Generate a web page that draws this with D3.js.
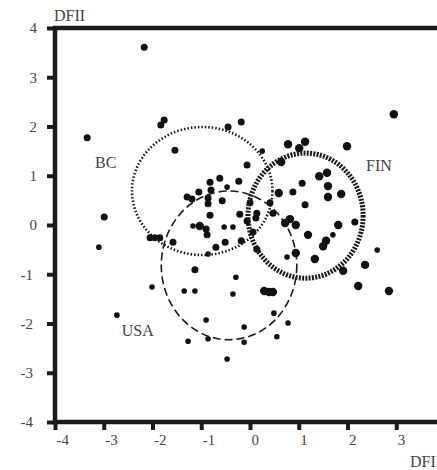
<!DOCTYPE html>
<html>
<head>
<meta charset="utf-8">
<script src="https://cdn.jsdelivr.net/npm/d3@7"></script>
<style>
    body { margin: 0; background: #fff; }
    svg { display: block; }
    .tick text { font-family: "Liberation Serif", "DejaVu Serif", serif; font-size: 15px; fill: #444; }
    .lbl { font-family: "Liberation Serif", "DejaVu Serif", serif; font-size: 16px; fill: #444; }
</style>
</head>
<body>
<svg id="chart" width="437" height="470"></svg>
<script>
// tick values
var xTicks = [-4, -3, -2, -1, 0, 1, 2, 3];
var yTicks = [-4, -3, -2, -1, 0, 1, 2, 3, 4];

// discriminant scores (DFI, DFII) per group
var finPoints = [
    [2.95, 2.25], [1.99, 1.60], [0.78, 1.64], [1.13, 1.69], [1.01, 1.56],
    [0.64, 1.28], [0.59, 0.65], [-1.03, -0.02], [0.72, 0.04], [0.82, 0.12],
    [0.94, 0.0], [0.94, -0.57], [0.29, -1.34], [0.39, -1.36], [0.47, -1.36],
    [1.81, 0.0], [1.19, -0.20], [1.50, -0.43], [1.56, -0.32], [1.33, -0.69],
    [2.36, -0.81], [1.91, -0.93], [2.22, -1.24], [2.85, -1.34], [1.58, 1.06],
    [1.42, 0.99], [1.60, 0.79], [1.87, 0.63], [1.60, 0.57]
];
var bcPoints = [
    [-2.17, 3.61], [-3.34, 1.77], [-2.99, 0.16], [-1.13, -0.91], [-1.83, 2.03],
    [-1.76, 2.13], [-1.54, 1.52], [-0.45, 1.99], [-0.18, 2.09], [-0.06, 1.22],
    [-0.62, 0.95], [-0.23, 0.89], [-0.57, 0.49], [0.88, 0.67], [0.41, 0.45],
    [-0.82, 0.87], [-1.05, 0.67], [-0.80, 0.71], [-1.29, 0.57], [-1.19, 0.53],
    [-0.86, 0.55], [-0.86, 0.43], [-0.82, 0.20], [-0.90, -0.08], [-0.88, -0.20],
    [-0.70, -0.45], [-2.05, -0.26], [-1.95, -0.26], [-1.85, -0.26], [-1.58, -0.35],
    [0.0, 0.45], [-0.21, 0.22], [0.14, 0.24], [0.12, 0.14], [0.47, 0.24],
    [-0.06, 0.08], [0.06, -0.14], [-0.51, -0.35], [-0.18, -0.32], [0.14, -0.49],
    [1.13, 0.41], [2.15, 0.06], [1.07, 0.85]
];
var usaPoints = [
    [-3.10, -0.45], [-2.73, -1.83], [-2.01, -1.26], [-1.27, -2.36], [-0.86, -2.31],
    [-0.90, -1.93], [-1.35, -1.34], [-1.13, -1.34], [0.25, 1.50], [-0.47, 0.77],
    [-1.17, -0.02], [-0.86, -0.59], [-0.53, -0.04], [-0.35, -0.04], [0.76, -0.65],
    [-0.29, -1.06], [-0.35, -1.40], [0.49, -1.79], [0.78, -1.99], [-0.12, -2.07],
    [-0.12, -2.38], [0.55, -2.27], [-0.47, -2.72], [1.70, -0.20], [2.61, -0.51]
];

// group ellipses: name, centre and spread in DF units
var groupNames = ["BC", "USA", "FIN"];
var groupCx = [-0.98, -0.43, 1.14];
var groupCy = [0.69, -0.82, 0.19];
var groupRx = [1.44, 1.39, 1.18];
var groupRy = [1.30, 1.51, 1.27];
// where the group names sit (DF units)
var labelX = [-3.18, -2.63, 2.38];
var labelY = [1.16, -2.25, 1.10];

var svg = d3.select("#chart");

var x = d3.scaleLinear().domain([-4, 4]).range([55, 445]);
var y = d3.scaleLinear().domain([-4, 4]).range([422, 28]);

// frame (right edge falls outside the window)
svg.append("rect")
    .attr("x", x(-4))
    .attr("y", y(4))
    .attr("width", x(4) - x(-4))
    .attr("height", y(-4) - y(4))
    .attr("fill", "none")
    .attr("stroke", "#1a1a1a")
    .attr("stroke-width", 4.5);

var xAxis = svg.append("g")
    .attr("transform", "translate(0," + y(-4) + ")")
    .call(d3.axisBottom(x).tickValues(xTicks).tickSize(8).tickSizeOuter(0).tickFormat(d3.format("d")));
xAxis.select(".domain").remove();
xAxis.selectAll(".tick line").attr("stroke", "#1a1a1a").attr("stroke-width", 4);
xAxis.selectAll(".tick text")
    .attr("text-anchor", "start")
    .attr("x", 1)
    .attr("y", 12)
    .attr("dy", "0.71em")
    .text(function (d) { return d < 0 ? "-" + Math.abs(d) : d; });

var yAxis = svg.append("g")
    .attr("transform", "translate(" + x(-4) + ",0)")
    .call(d3.axisLeft(y).tickValues(yTicks).tickSize(8).tickSizeOuter(0));
yAxis.select(".domain").remove();
yAxis.selectAll(".tick line").attr("stroke", "#1a1a1a").attr("stroke-width", 4);
yAxis.selectAll(".tick text")
    .attr("text-anchor", "end")
    .attr("x", function (d) { return d < 0 ? -22 : -18; })
    .attr("dy", "0.33em")
    .text(function (d) { return d < 0 ? "-" + Math.abs(d) : d; });

// points
var groups = [
    { pts: finPoints, r: 4.2 },
    { pts: bcPoints, r: 3.5 },
    { pts: usaPoints, r: 2.8 }
];
groups.forEach(function (g) {
    svg.append("g")
        .selectAll("circle")
        .data(g.pts)
        .enter().append("circle")
        .attr("cx", function (d) { return x(d[0]); })
        .attr("cy", function (d) { return y(d[1]); })
        .attr("r", g.r)
        .attr("fill", "#111");
});

// group ellipses
var ellStyle = [
    { w: 2.6, dash: "1.5,2" },
    { w: 1.6, dash: "8,4" },
    { w: 5, dash: "2,1.3" }
];
svg.append("g")
    .selectAll("ellipse")
    .data(groupNames)
    .enter().append("ellipse")
    .attr("cx", function (d, i) { return x(groupCx[i]); })
    .attr("cy", function (d, i) { return y(groupCy[i]); })
    .attr("rx", function (d, i) { return x(groupRx[i]) - x(0); })
    .attr("ry", function (d, i) { return y(0) - y(groupRy[i]); })
    .attr("fill", "none")
    .attr("stroke", "#1a1a1a")
    .attr("stroke-width", function (d, i) { return ellStyle[i].w; })
    .attr("stroke-dasharray", function (d, i) { return ellStyle[i].dash; });

svg.append("g")
    .selectAll("text")
    .data(groupNames)
    .enter().append("text")
    .attr("class", "lbl")
    .attr("x", function (d, i) { return x(labelX[i]); })
    .attr("y", function (d, i) { return y(labelY[i]); })
    .text(function (d) { return d; });

// axis titles
svg.append("text").attr("class", "lbl").attr("x", 54).attr("y", 21).text("DFII");
svg.append("text").attr("class", "lbl").attr("x", 410).attr("y", 467).text("DFI");
</script>
</body>
</html>
